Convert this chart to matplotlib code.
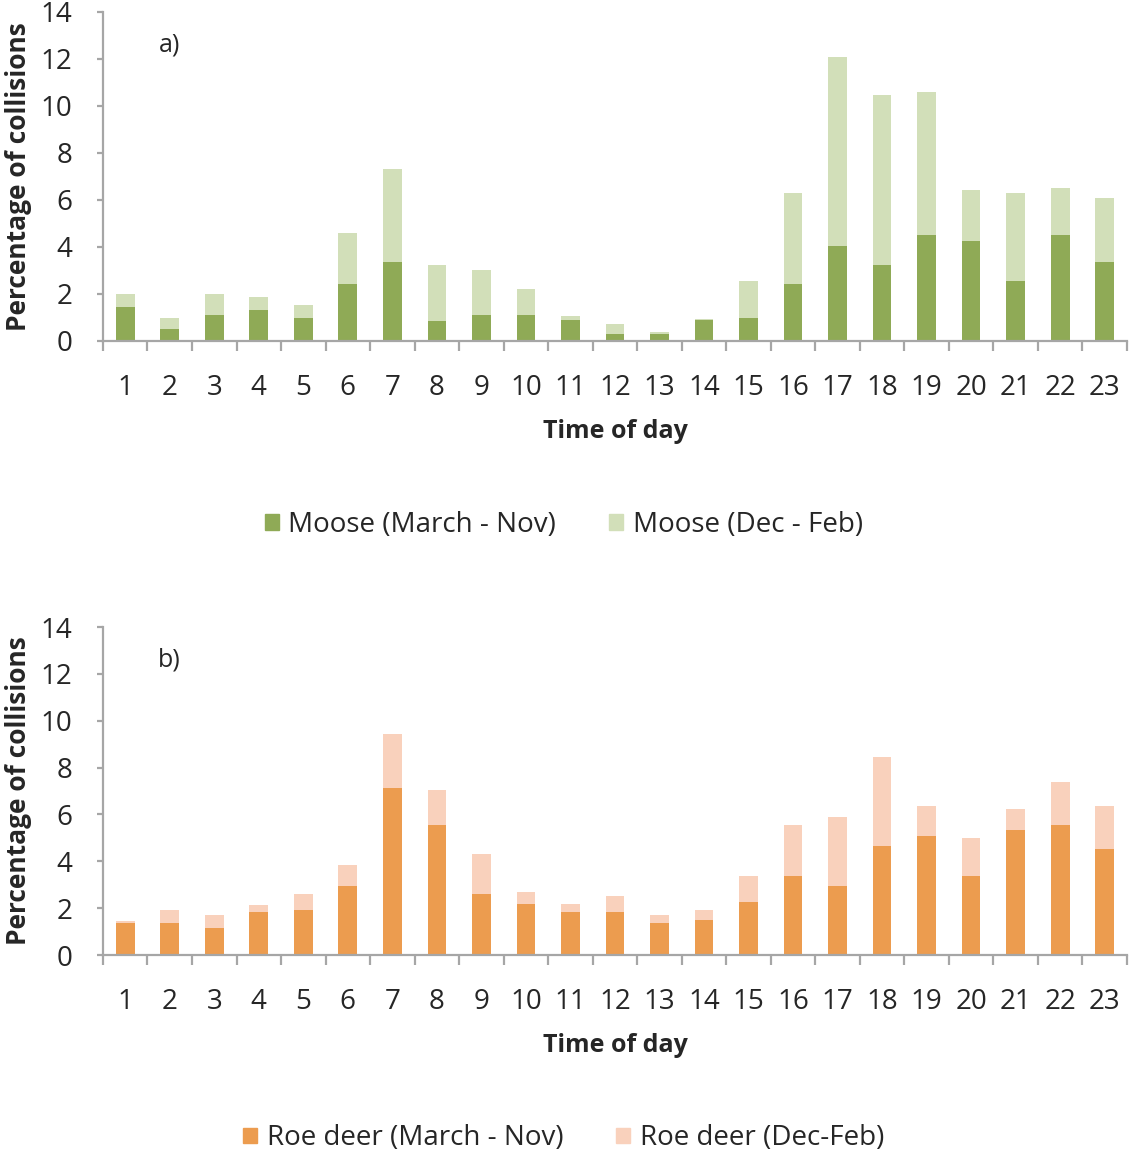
import numpy as np
import matplotlib
matplotlib.use("Agg")
import matplotlib.pyplot as plt
from matplotlib.patches import Patch

plt.rcParams['font.family'] = ['Open Sans', 'DejaVu Sans']

hours = [str(h) for h in range(1, 24)]

# moose, percentage of collisions by hour
moose_summer = [1.45, 0.53, 1.09, 1.31, 0.98, 2.44, 3.35, 0.87, 1.09, 1.09, 0.88, 0.31,
                0.31, 0.88, 0.98, 2.44, 4.03, 3.24, 4.49, 4.26, 2.56, 4.49, 3.35]
moose_total = [1.99, 0.97, 1.99, 1.88, 1.53, 4.60, 7.30, 3.24, 3.01, 2.22, 1.08, 0.74,
               0.40, 0.92, 2.56, 6.29, 12.07, 10.48, 10.61, 6.41, 6.29, 6.52, 6.07]

# roe deer, percentage of collisions by hour
roe_summer = [1.38, 1.38, 1.14, 1.83, 1.93, 2.95, 7.15, 5.56, 2.60, 2.16, 1.82, 1.82,
              1.36, 1.48, 2.27, 3.39, 2.95, 4.64, 5.10, 3.39, 5.33, 5.55, 4.53]
roe_total = [1.45, 1.92, 1.69, 2.14, 2.60, 3.85, 9.42, 7.03, 4.30, 2.71, 2.16, 2.50,
             1.69, 1.92, 3.39, 5.55, 5.89, 8.47, 6.35, 4.98, 6.24, 7.37, 6.35]

axis_grey = '#a6a6a6'
text_col = '#262626'


def draw_panel(ax, summer, total, c_dark, c_light, lab_dark, lab_light, tag):
    x = np.arange(len(hours))
    summer = np.array(summer)
    winter = np.array(total) - summer
    ax.bar(x, summer, width=0.42, color=c_dark, zorder=2)
    ax.bar(x, winter, width=0.42, bottom=summer, color=c_light, zorder=2)

    ax.set_xlim(-0.5, len(hours) - 0.5)
    ax.set_ylim(0, 14)
    ax.set_yticks(range(0, 15, 2))
    ax.set_xticks(x)
    ax.set_xticklabels(hours)
    ax.set_xticks(np.arange(-0.5, len(hours)), minor=True)

    for s in ['top', 'right']:
        ax.spines[s].set_visible(False)
    for s in ['left', 'bottom']:
        ax.spines[s].set_color(axis_grey)
        ax.spines[s].set_linewidth(1.6)

    ax.tick_params(axis='x', which='major', length=0, pad=24, labelsize=20, labelcolor=text_col)
    ax.tick_params(axis='x', which='minor', length=7, width=1.6, color=axis_grey)
    ax.tick_params(axis='y', length=4, width=1.6, color=axis_grey, pad=18,
                   labelsize=20, labelcolor=text_col)

    ax.set_ylabel('Percentage of collisions', fontsize=19, fontweight='bold',
                  color=text_col, labelpad=6)
    ax.set_xlabel('Time of day', fontsize=18, fontweight='bold', color=text_col, labelpad=12)
    ax.text(1.0, 12.6, tag, fontsize=18, color=text_col, va='center', ha='center')

    handles = [Patch(color=c_dark, label=lab_dark), Patch(color=c_light, label=lab_light)]
    ax.legend(handles=handles, loc='upper center', bbox_to_anchor=(0.45, -0.44), ncol=2,
              frameon=False, fontsize=20, handlelength=0.5, handleheight=0.5,
              handletextpad=0.35, columnspacing=1.9, labelcolor=text_col)


fig = plt.figure(figsize=(11.29, 11.52), dpi=100)
ax1 = fig.add_axes([0.0912, 0.704, 0.907, 0.2856])
ax2 = fig.add_axes([0.0912, 0.171, 0.907, 0.2847])

draw_panel(ax1, moose_summer, moose_total, '#8faa56', '#d2dfb9',
           'Moose (March - Nov)', 'Moose (Dec - Feb)', 'a)')
draw_panel(ax2, roe_summer, roe_total, '#ec9c4f', '#f9d1bc',
           'Roe deer (March - Nov)', 'Roe deer (Dec-Feb)', 'b)')

fig.savefig('out.png', dpi=100)
